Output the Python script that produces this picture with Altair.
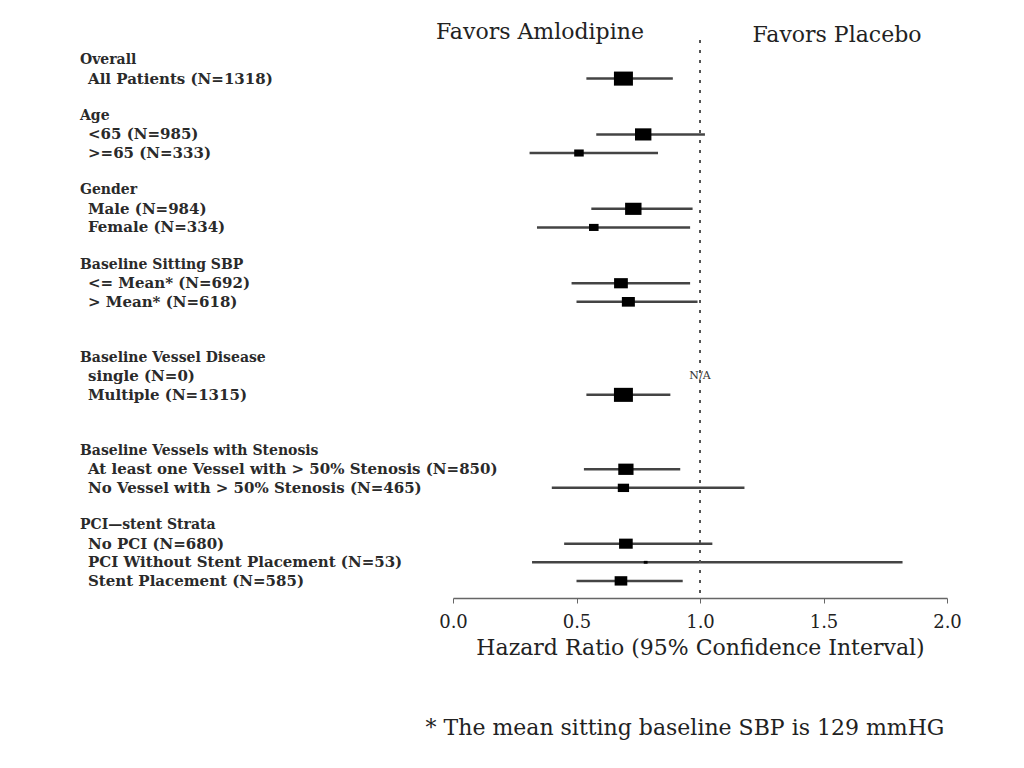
import altair as alt
import pandas as pd

# ---- data ----
labels = [
    "Overall", "All Patients (N=1318)",
    "Age", "<65 (N=985)", ">=65 (N=333)",
    "Gender", "Male (N=984)", "Female (N=334)",
    "Baseline Sitting SBP", "<= Mean* (N=692)", "> Mean* (N=618)",
    "Baseline Vessel Disease", "single (N=0)", "Multiple (N=1315)",
    "Baseline Vessels with Stenosis", "At least one Vessel with > 50% Stenosis (N=850)",
    "No Vessel with > 50% Stenosis (N=465)",
    "PCI\u2014stent Strata", "No PCI (N=680)", "PCI Without Stent Placement (N=53)",
    "Stent Placement (N=585)",
]
row_idx = [0, 1, 3, 4, 5, 7, 8, 9, 11, 12, 13, 16, 17, 18, 21, 22, 23, 25, 26, 27, 28]
is_header = [True, False, True, False, False, True, False, False, True, False, False,
             True, False, False, True, False, False, True, False, False, False]
n_pat = [None, 1318, None, 985, 333, None, 984, 334, None, 692, 618,
         None, 0, 1315, None, 850, 465, None, 680, 53, 585]
hr = [None, 0.69, None, 0.77, 0.51, None, 0.73, 0.57, None, 0.68, 0.71,
      None, None, 0.69, None, 0.70, 0.69, None, 0.70, 0.78, 0.68]
lo = [None, 0.54, None, 0.58, 0.31, None, 0.56, 0.34, None, 0.48, 0.50,
      None, None, 0.54, None, 0.53, 0.40, None, 0.45, 0.32, 0.50]
hi = [None, 0.89, None, 1.02, 0.83, None, 0.97, 0.96, None, 0.96, 0.99,
      None, None, 0.88, None, 0.92, 1.18, None, 1.05, 1.82, 0.93]
x_ticks = [0.0, 0.5, 1.0, 1.5, 2.0]
ref_value = [1.0]
na_row = [17]
na_text = ["N/A"]
favors_text = ["Favors Amlodipine", "Favors Placebo"]
footnote_text = ["* The mean sitting baseline SBP is 129 mmHG"]

df = pd.DataFrame({"label": labels, "row": row_idx, "header": is_header,
                   "n": n_pat, "hr": hr, "lo": lo, "hi": hi})
est = df.dropna(subset=["hr"])

SERIF = "DejaVu Serif"
W, H = 494, 558

xs = alt.Scale(domain=[0, 2], nice=False, zero=False)
ys = alt.Scale(domain=[-1.075, 28.92], reverse=True, nice=False, zero=False)

base = alt.Chart(est)

ci = base.mark_rule(color="#444", strokeWidth=2.5).encode(
    x=alt.X("lo:Q", scale=xs,
            axis=alt.Axis(values=x_ticks, format=".1f", title="Hazard Ratio (95% Confidence Interval)",
                          labelFont=SERIF, labelFontSize=18, labelColor="#222",
                          titleFont=SERIF, titleFontSize=22, titleFontWeight="normal",
                          titleColor="#222", titlePadding=6, labelPadding=10,
                          domainColor="#666", domainWidth=1.5, tickColor="#666",
                          tickSize=5, grid=False, labelFlush=False)),
    x2="hi:Q",
    y=alt.Y("row:Q", scale=ys, axis=None),
)

box = base.mark_point(
    shape="M-1,-0.74L1,-0.74L1,0.74L-1,0.74Z", filled=True, color="#000", opacity=1
).encode(
    x=alt.X("hr:Q", scale=xs),
    y=alt.Y("row:Q", scale=ys),
    size=alt.Size("n:Q", scale=alt.Scale(domain=[0, 1318], range=[0, 361]), legend=None),
)

ref = alt.Chart(pd.DataFrame({"v": ref_value})).mark_rule(
    color="#555", strokeWidth=2, strokeDash=[3, 7]
).encode(x=alt.X("v:Q", scale=xs), y=alt.value(0), y2=alt.value(H))

na = alt.Chart(pd.DataFrame({"row": na_row, "t": na_text, "v": ref_value})).mark_text(
    font=SERIF, fontSize=11, color="#333", align="center", baseline="middle"
).encode(x=alt.X("v:Q", scale=xs), y=alt.Y("row:Q", scale=ys), text="t:N")

hdr_df = df[df["header"]]
item_df = df[~df["header"]]
hdr_txt = alt.Chart(hdr_df).mark_text(
    font=SERIF, fontSize=14, fontWeight="bold", color="#2a2a2a", align="left", baseline="middle"
).encode(x=alt.value(-373), y=alt.Y("row:Q", scale=ys), text="label:N")
item_txt = alt.Chart(item_df).mark_text(
    font=SERIF, fontSize=15, fontWeight="bold", color="#2a2a2a", align="left", baseline="middle"
).encode(x=alt.value(-365), y=alt.Y("row:Q", scale=ys), text="label:N")

fav = alt.Chart(pd.DataFrame({"t": favors_text, "px": [87, 384], "py": [-8, -5]})).mark_text(
    font=SERIF, fontSize=22, color="#222", align="center", baseline="middle"
).encode(x=alt.X("px:Q", scale=None), y=alt.Y("py:Q", scale=None), text="t:N")

foot = alt.Chart(pd.DataFrame({"t": footnote_text})).mark_text(
    font=SERIF, fontSize=22, color="#222", align="center", baseline="middle"
).encode(x=alt.value(232), y=alt.value(688), text="t:N")

chart = alt.layer(ci, ref, box, na, hdr_txt, item_txt, fav, foot).properties(
    width=W, height=H,
    background="white",
    autosize=alt.AutoSizeParams(type="none"),
    padding={"left": 453, "top": 40, "right": 77, "bottom": 170},
).configure_view(stroke=None, strokeWidth=0)

chart.save("out.html", embed_options={"renderer": "svg", "actions": False})
